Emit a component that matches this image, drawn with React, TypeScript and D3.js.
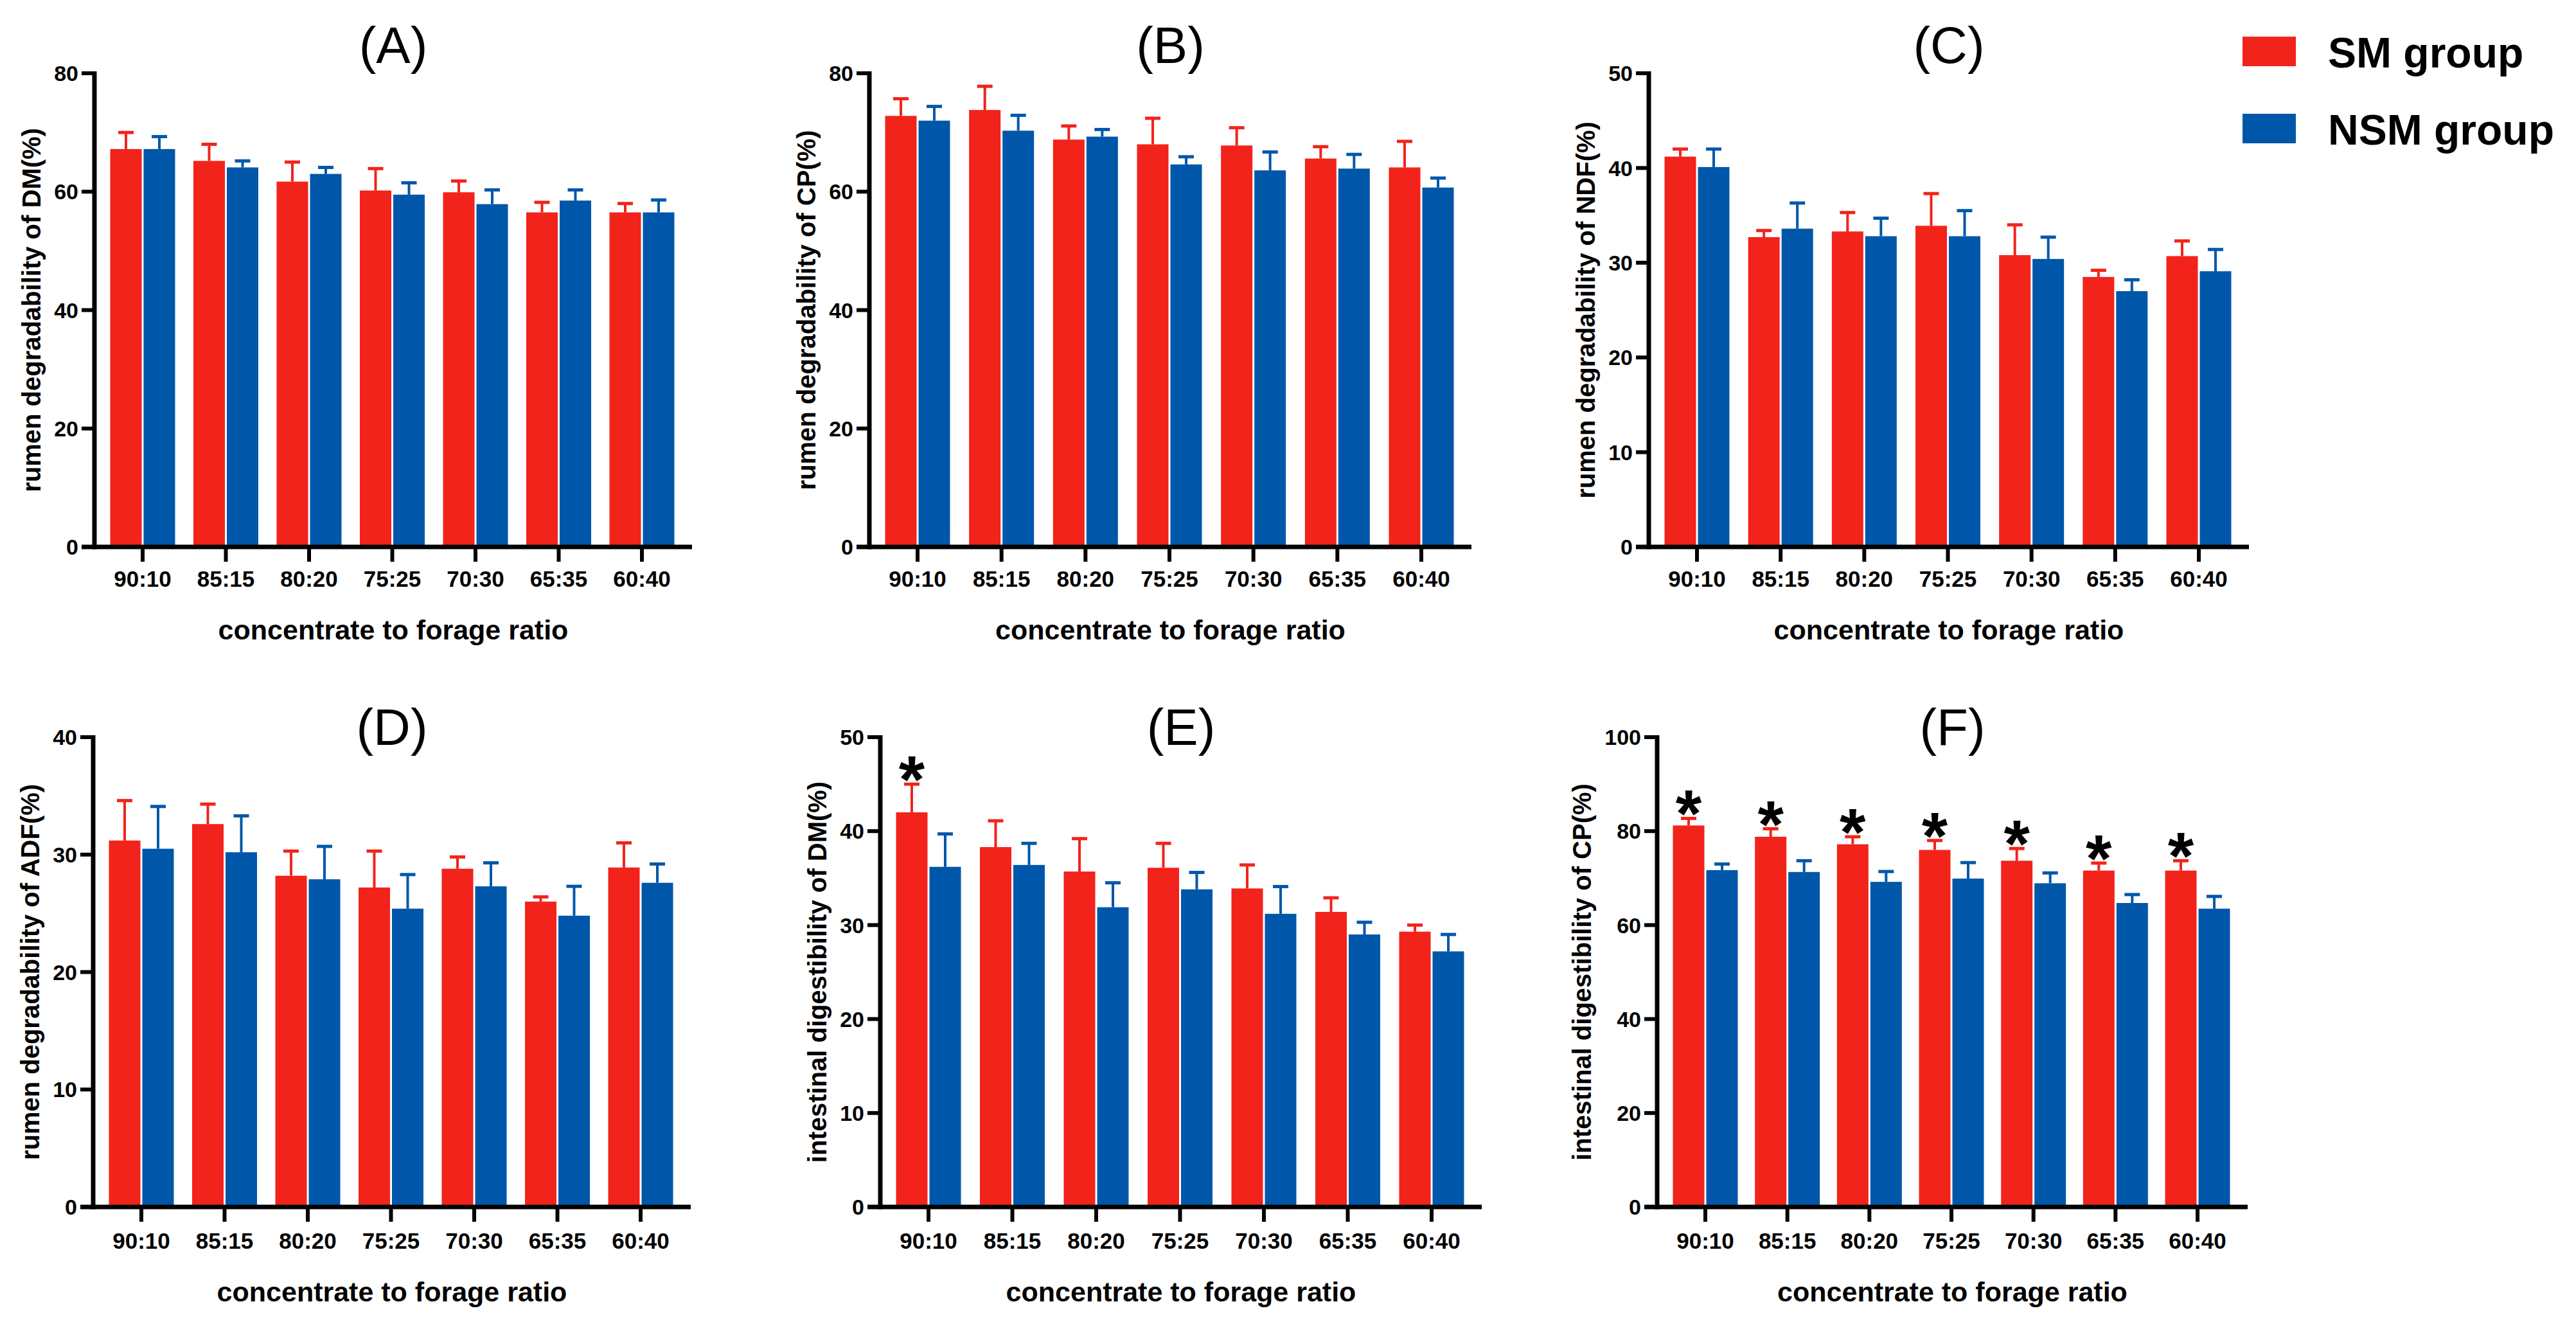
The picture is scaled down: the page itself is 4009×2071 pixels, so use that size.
import React from "react";
import * as d3 from "d3";

const categories = ["90:10", "85:15", "80:20", "75:25", "70:30", "65:35", "60:40"];
const seriesNames = ["SM group", "NSM group"];

const aSM = [67.2, 65.2, 61.7, 60.2, 59.9, 56.5, 56.5];
const aSMErr = [2.8, 2.8, 3.3, 3.7, 1.9, 1.7, 1.5];
const aNSM = [67.2, 64.1, 63.0, 59.5, 57.9, 58.5, 56.5];
const aNSMErr = [2.1, 1.1, 1.1, 2.0, 2.4, 1.8, 2.1];

const bSM = [72.8, 73.8, 68.8, 68.0, 67.8, 65.6, 64.1];
const bSMErr = [2.9, 4.0, 2.3, 4.4, 3.0, 2.0, 4.4];
const bNSM = [72.0, 70.3, 69.3, 64.6, 63.6, 63.9, 60.7];
const bNSMErr = [2.4, 2.6, 1.2, 1.3, 3.1, 2.4, 1.6];

const cSM = [41.2, 32.7, 33.3, 33.9, 30.8, 28.5, 30.7];
const cSMErr = [0.8, 0.7, 2.0, 3.4, 3.2, 0.7, 1.6];
const cNSM = [40.1, 33.6, 32.8, 32.8, 30.4, 27.0, 29.1];
const cNSMErr = [1.9, 2.7, 1.9, 2.7, 2.3, 1.2, 2.3];

const dSM = [31.2, 32.6, 28.2, 27.2, 28.8, 26.0, 28.9];
const dSMErr = [3.4, 1.7, 2.1, 3.1, 1.0, 0.4, 2.1];
const dNSM = [30.5, 30.2, 27.9, 25.4, 27.3, 24.8, 27.6];
const dNSMErr = [3.6, 3.1, 2.8, 2.9, 2.0, 2.5, 1.6];

const eSM = [42.0, 38.3, 35.7, 36.1, 33.9, 31.4, 29.3];
const eSMErr = [3.0, 2.8, 3.5, 2.6, 2.5, 1.5, 0.7];
const eNSM = [36.2, 36.4, 31.9, 33.8, 31.2, 29.0, 27.2];
const eNSMErr = [3.5, 2.3, 2.6, 1.8, 2.9, 1.3, 1.8];
const eSig = [true, false, false, false, false, false, false];

const fSM = [81.2, 78.8, 77.2, 76.0, 73.7, 71.6, 71.6];
const fSMErr = [1.5, 1.7, 1.6, 2.0, 2.6, 1.6, 2.1];
const fNSM = [71.7, 71.3, 69.2, 69.9, 68.9, 64.7, 63.5];
const fNSMErr = [1.3, 2.4, 2.2, 3.4, 2.2, 1.8, 2.6];
const fSig = [true, true, true, true, true, true, true];

const noSig = [false, false, false, false, false, false, false];

const ticks80 = [0, 20, 40, 60, 80];
const ticks50 = [0, 10, 20, 30, 40, 50];
const ticks40 = [0, 10, 20, 30, 40];
const ticks100 = [0, 20, 40, 60, 80, 100];

const RED = "#F2231B";
const BLUE = "#0057AA";
const FONT = "'Liberation Sans', Arial, sans-serif";

type PanelDef = {
  letter: string;
  yLabel: string;
  sm: number[];
  smErr: number[];
  nsm: number[];
  nsmErr: number[];
  sig: boolean[];
  ticks: number[];
  x0: number;
  x1: number;
  row: number;
};

const panels: PanelDef[] = [
  { letter: "(A)", yLabel: "rumen degradability of DM(%)", sm: aSM, smErr: aSMErr, nsm: aNSM, nsmErr: aNSMErr, sig: noSig, ticks: ticks80, x0: 147, x1: 1077, row: 0 },
  { letter: "(B)", yLabel: "rumen degradability of CP(%)", sm: bSM, smErr: bSMErr, nsm: bNSM, nsmErr: bNSMErr, sig: noSig, ticks: ticks80, x0: 1353, x1: 2290, row: 0 },
  { letter: "(C)", yLabel: "rumen degradability of NDF(%)", sm: cSM, smErr: cSMErr, nsm: cNSM, nsmErr: cNSMErr, sig: noSig, ticks: ticks50, x0: 2566, x1: 3500, row: 0 },
  { letter: "(D)", yLabel: "rumen degradability of ADF(%)", sm: dSM, smErr: dSMErr, nsm: dNSM, nsmErr: dNSMErr, sig: noSig, ticks: ticks40, x0: 145, x1: 1075, row: 1 },
  { letter: "(E)", yLabel: "intestinal digestibility of DM(%)", sm: eSM, smErr: eSMErr, nsm: eNSM, nsmErr: eNSMErr, sig: eSig, ticks: ticks50, x0: 1370, x1: 2306, row: 1 },
  { letter: "(F)", yLabel: "intestinal digestibility of CP(%)", sm: fSM, smErr: fSMErr, nsm: fNSM, nsmErr: fNSMErr, sig: fSig, ticks: ticks100, x0: 2579, x1: 3498, row: 1 },
];

const rows = [
  { top: 114, base: 851, titleY: 98, tickLabelY: 913, xTitleY: 995 },
  { top: 1147, base: 1878, titleY: 1159, tickLabelY: 1943, xTitleY: 2025 },
];

const BAR_W = 49;
const GAP = 3;
const CAP_W = 24;

function Panel({ p }: { p: PanelDef }) {
  const r = rows[p.row];
  const maxV = p.ticks[p.ticks.length - 1];
  const y = d3.scaleLinear().domain([0, maxV]).range([r.base, r.top]);
  const x = d3.scalePoint<string>().domain(categories).range([p.x0 + 75, p.x1 - 78]);
  const maxDigits = d3.max(p.ticks, (t) => String(t).length) || 2;
  const yTitleX = p.x0 - 98 - (maxDigits - 2) * 19;
  const midY = (r.top + r.base) / 2;
  const groups = [
    { vals: p.sm, errs: p.smErr, color: RED, dx: -GAP / 2 - BAR_W },
    { vals: p.nsm, errs: p.nsmErr, color: BLUE, dx: GAP / 2 },
  ];
  return (
    <g>
      <text x={(p.x0 + p.x1) / 2} y={r.titleY} fontSize={80} fontFamily={FONT} textAnchor="middle" fill="#000">
        {p.letter}
      </text>
      {groups.map((g, gi) =>
        categories.map((c, i) => {
          const cx = (x(c) as number) + g.dx;
          const top = y(g.vals[i]);
          const et = y(g.vals[i] + g.errs[i]);
          return (
            <g key={`${gi}-${i}`}>
              <rect x={cx} y={top} width={BAR_W} height={r.base - top} fill={g.color} />
              <line x1={cx + BAR_W / 2} x2={cx + BAR_W / 2} y1={top} y2={et} stroke={g.color} strokeWidth={4} />
              <line x1={cx + BAR_W / 2 - CAP_W / 2} x2={cx + BAR_W / 2 + CAP_W / 2} y1={et} y2={et} stroke={g.color} strokeWidth={5} />
            </g>
          );
        })
      )}
      {categories.map((c, i) =>
        p.sig[i] ? (
          <text
            key={`s${i}`}
            x={(x(c) as number) - GAP / 2 - BAR_W / 2}
            y={y(p.sm[i] + p.smErr[i]) - 29 + 58}
            fontSize={104}
            fontWeight="bold"
            fontFamily={FONT}
            textAnchor="middle"
            fill="#000"
          >
            *
          </text>
        ) : null
      )}
      <line x1={p.x0} x2={p.x0} y1={r.top - 3} y2={r.base + 3.5} stroke="#000" strokeWidth={7} />
      <line x1={p.x0 - 20} x2={p.x1} y1={r.base} y2={r.base} stroke="#000" strokeWidth={7} />
      {p.ticks.map((t) => (
        <g key={`yt${t}`}>
          <line x1={p.x0 - 20} x2={p.x0} y1={y(t)} y2={y(t)} stroke="#000" strokeWidth={6} />
          <text x={p.x0 - 25} y={y(t)} dy="0.36em" fontSize={34} fontWeight="bold" fontFamily={FONT} textAnchor="end" fill="#000">
            {t}
          </text>
        </g>
      ))}
      {categories.map((c) => (
        <g key={`xt${c}`}>
          <line x1={x(c)} x2={x(c)} y1={r.base} y2={r.base + 23} stroke="#000" strokeWidth={6} />
          <text x={x(c)} y={r.tickLabelY} fontSize={35} fontWeight="bold" fontFamily={FONT} textAnchor="middle" fill="#000">
            {c}
          </text>
        </g>
      ))}
      <text x={(p.x0 + p.x1) / 2} y={r.xTitleY} fontSize={43} fontWeight="bold" fontFamily={FONT} textAnchor="middle" fill="#000">
        concentrate to forage ratio
      </text>
      <text
        transform={`translate(${yTitleX},${midY}) rotate(-90)`}
        dy="0.36em"
        fontSize={40}
        fontWeight="bold"
        fontFamily={FONT}
        textAnchor="middle"
        fill="#000"
      >
        {p.yLabel}
      </text>
    </g>
  );
}

export default function App() {
  const legendColors = [RED, BLUE];
  const legendY = d3.scalePoint<string>().domain(seriesNames).range([80, 200]);
  return (
    <svg width={4009} height={2071} style={{ position: "absolute", left: 0, top: 0, background: "#fff" }}>
      <rect x={0} y={0} width={4009} height={2071} fill="#fff" />
      {panels.map((p) => (
        <Panel key={p.letter} p={p} />
      ))}
      {seriesNames.map((s, i) => (
        <g key={s}>
          <rect x={3490} y={(legendY(s) as number) - 23} width={83} height={46} fill={legendColors[i]} />
          <text x={3623} y={(legendY(s) as number) + 25} fontSize={66} fontWeight="bold" fontFamily={FONT} fill="#000">
            {s}
          </text>
        </g>
      ))}
    </svg>
  );
}
